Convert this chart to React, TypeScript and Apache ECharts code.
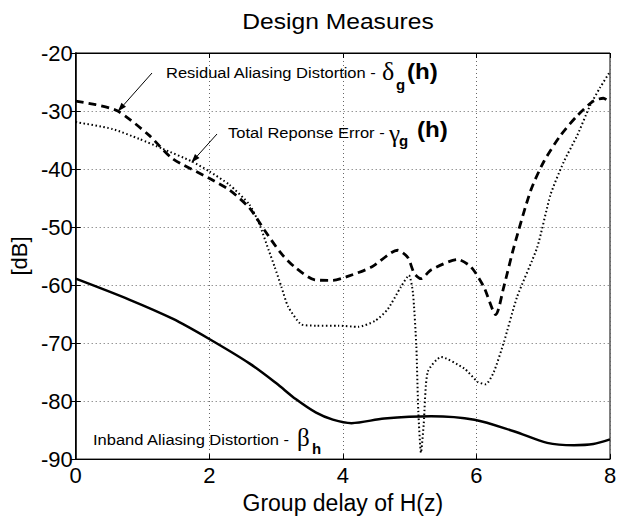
import React, { useEffect, useRef } from "react";
import * as echarts from "echarts";

// Residual Aliasing Distortion (dashed)
const deltaX = [0, 0.3, 0.63, 1.1, 1.45, 2.0, 2.3, 2.6, 2.83, 3.08, 3.28, 3.58, 3.85, 4.05, 4.43, 4.82, 4.97, 5.07, 5.17, 5.32, 5.72, 5.92, 6.11, 6.29, 6.41, 6.56, 6.81, 7.01, 7.26, 7.51, 7.75, 7.9, 8.0];
const deltaY = [-28.3, -28.9, -30.0, -34.2, -38.2, -41.6, -43.6, -46.7, -50.6, -54.6, -56.9, -59.1, -59.2, -58.6, -56.9, -54.0, -55.2, -58.0, -58.9, -57.4, -55.6, -56.9, -60.3, -65.1, -60.3, -53.5, -43.8, -38.7, -34.2, -30.8, -28.3, -27.8, -28.5];

// Total Reponse Error (dotted)
const gammaX = [0, 0.55, 0.95, 1.3, 1.74, 2.0, 2.3, 2.6, 2.75, 2.89, 2.98, 3.08, 3.18, 3.38, 3.6, 3.93, 4.23, 4.48, 4.67, 4.87, 4.99, 5.05, 5.10, 5.13, 5.17, 5.21, 5.27, 5.47, 5.82, 6.02, 6.14, 6.26, 6.41, 6.61, 6.91, 7.11, 7.31, 7.51, 7.70, 7.85, 8.0];
const gammaY = [-31.9, -33.1, -34.8, -36.5, -38.7, -40.4, -42.7, -46.1, -49.5, -54.0, -56.9, -60.3, -63.7, -66.8, -67.0, -67.0, -67.2, -66.2, -64.2, -60.3, -58.3, -61.4, -70.5, -81.8, -88.9, -84.1, -75.0, -72.4, -74.4, -76.7, -77.1, -75.0, -69.9, -62.0, -53.5, -44.4, -38.7, -34.2, -29.1, -26.0, -23.2];

// Inband Aliasing Distortion (solid)
const betaX = [0, 0.8, 1.45, 2.0, 2.6, 3.0, 3.3, 3.6, 3.85, 4.13, 4.62, 5.32, 5.97, 6.56, 7.06, 7.46, 7.75, 8.0];
const betaY = [-58.9, -62.5, -65.8, -69.3, -73.5, -76.9, -79.7, -82.0, -83.2, -83.8, -83.0, -82.6, -83.2, -85.2, -87.2, -87.6, -87.4, -86.6];

const xTicks = { min: 0, max: 8, interval: 2 };
const yTicks = { min: -90, max: -20, interval: 10 };

// arrow tips in data coordinates
const arrowTips = [
  { from: [152, 73], tip: [0.63, -30.1] },
  { from: [217, 134], tip: [1.73, -38.9] },
];

const SANS = '"Liberation Sans", Arial, Helvetica, sans-serif';
const SERIF = '"Liberation Serif", "Times New Roman", serif';

const zip = (xs: number[], ys: number[]) => xs.map((x, i) => [x, ys[i]]);

export default function App() {
  const ref = useRef<HTMLDivElement>(null);
  useEffect(() => {
    if (!ref.current) return;
    const chart = echarts.init(ref.current, undefined, { renderer: "svg" });
    const splitStyle = { show: true, lineStyle: { color: "#666", type: [1, 3] as any, width: 1 } };
    const tickIn = { show: true, inside: true, length: 5, lineStyle: { color: "#000" } };
    chart.setOption({
      animation: false,
      backgroundColor: "#fff",
      grid: { left: 73, right: 19, top: 53, bottom: 54, show: true, borderColor: "#000", borderWidth: 1 },
      xAxis: [
        {
          type: "value",
          ...xTicks,
          name: "Group delay of H(z)",
          nameLocation: "middle",
          nameGap: 28,
          nameTextStyle: { fontFamily: SANS, fontSize: 23, color: "#000" },
          axisLine: { show: true, lineStyle: { color: "#000", width: 1 } },
          axisTick: tickIn,
          axisLabel: { fontFamily: SANS, fontSize: 22, color: "#000", margin: 5 },
          splitLine: splitStyle,
        },
        {
          type: "value",
          position: "top",
          ...xTicks,
          axisLine: { show: true, lineStyle: { color: "#000", width: 1 } },
          axisTick: tickIn,
          axisLabel: { show: false },
          splitLine: { show: false },
        },
      ],
      yAxis: [
        {
          type: "value",
          ...yTicks,
          name: "[dB]",
          nameLocation: "middle",
          nameGap: 40,
          nameRotate: 90,
          nameTextStyle: { fontFamily: SANS, fontSize: 22, color: "#000" },
          axisLine: { show: true, lineStyle: { color: "#000", width: 1 } },
          axisTick: tickIn,
          axisLabel: { fontFamily: SANS, fontSize: 22, color: "#000", margin: 3 },
          splitLine: splitStyle,
        },
        {
          type: "value",
          position: "right",
          ...yTicks,
          axisLine: { show: true, lineStyle: { color: "#000", width: 1.5 } },
          axisTick: tickIn,
          axisLabel: { show: false },
          splitLine: { show: false },
        },
      ],
      series: [
        {
          type: "line",
          name: "beta",
          data: zip(betaX, betaY),
          showSymbol: false,
          smooth: 0.3,
          lineStyle: { color: "#000", width: 2.5 },
          z: 3,
        },
        {
          type: "line",
          name: "delta",
          data: zip(deltaX, deltaY),
          showSymbol: false,
          smooth: 0.25,
          lineStyle: { color: "#000", width: 2.8, type: [8, 5] },
          z: 4,
        },
        {
          type: "line",
          name: "gamma",
          data: zip(gammaX, gammaY),
          showSymbol: false,
          smooth: 0.2,
          lineStyle: { color: "#000", width: 2, type: [1.5, 2.5] },
          z: 5,
        },
      ],
    });

    const arrows: any[] = [];
    arrowTips.forEach((a) => {
      const t = chart.convertToPixel({ gridIndex: 0 }, a.tip) as number[];
      const [fx, fy] = a.from;
      const dx = t[0] - fx;
      const dy = t[1] - fy;
      const len = Math.sqrt(dx * dx + dy * dy);
      const ux = dx / len;
      const uy = dy / len;
      const hl = 9;
      const hw = 3;
      const bx = t[0] - ux * hl;
      const by = t[1] - uy * hl;
      arrows.push({
        type: "line",
        shape: { x1: fx, y1: fy, x2: bx, y2: by },
        style: { stroke: "#000", lineWidth: 1 },
        z: 10,
      });
      arrows.push({
        type: "polygon",
        shape: {
          points: [
            [t[0], t[1]],
            [bx - uy * hw, by + ux * hw],
            [bx + uy * hw, by - ux * hw],
          ],
        },
        style: { fill: "#000" },
        z: 10,
      });
    });

    const txt = (text: string, x: number, y: number, font: string, sx = 1, align = "left") => ({
      type: "text",
      x,
      y,
      scaleX: sx,
      z: 10,
      style: { text, font, fill: "#000", align, verticalAlign: "middle" },
    });

    chart.setOption({
      graphic: [
        txt("Design Measures", 338, 21, `22px ${SANS}`, 1.12, "center"),
        // annotation 1
        txt("Residual Aliasing Distortion - ", 166, 73, `15px ${SANS}`, 1.1),
        txt("δ", 382, 71, `26px ${SERIF}`),
        txt("g", 396, 84, `bold 15px ${SANS}`),
        txt("(h)", 407, 71, `bold 22px ${SANS}`, 1.1),
        // annotation 2
        txt("Total Reponse Error - ", 228, 133, `15px ${SANS}`, 1.1),
        txt("γ", 389, 133, `25px ${SERIF}`),
        txt("g", 399, 140, `bold 15px ${SANS}`),
        txt("(h)", 417, 129, `bold 22px ${SANS}`, 1.1),
        // annotation 3
        txt("Inband Aliasing Distortion - ", 93, 440, `15px ${SANS}`, 1.1),
        txt("β", 297, 437, `25px ${SERIF}`),
        txt("h", 312, 448, `bold 15px ${SANS}`),
        ...arrows,
      ],
    });

    return () => chart.dispose();
  }, []);
  return (
    <div
      ref={ref}
      style={{ position: "fixed", left: 0, top: 0, width: 629, height: 519, background: "#fff" }}
    />
  );
}
